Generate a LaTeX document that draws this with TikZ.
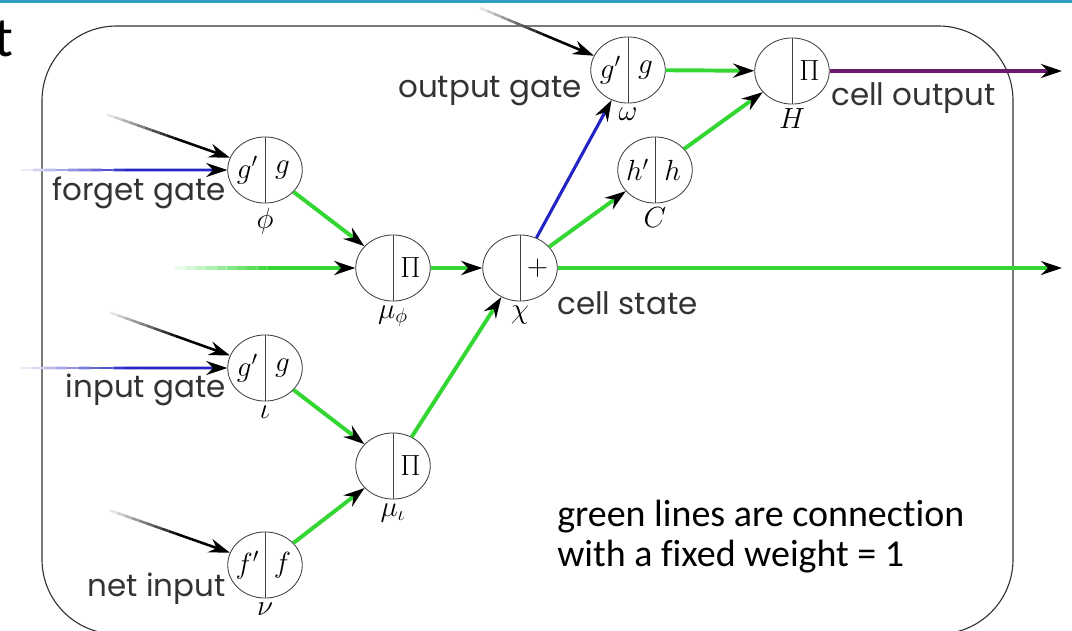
\documentclass[tikz,border=0pt]{standalone}
\usepackage{fontspec}
\newfontfamily\gatefont{Poppins}
\newfontfamily\notefont{Carlito}[Ligatures=NoCommon]
\usepackage{tikz}
\usetikzlibrary{shapes.geometric, arrows.meta, calc}
\definecolor{linkgreen}{HTML}{33D633}
\definecolor{gateblue}{HTML}{2424C4}
\definecolor{outpurple}{HTML}{6A1A6E}
\definecolor{barteal}{HTML}{2E9FBF}
\definecolor{labelgray}{HTML}{333333}

\begin{document}
\begin{tikzpicture}[x=0.025cm, y=-0.025cm,
    unit/.style={ellipse, draw=black!75, line width=0.6pt, minimum width=53pt,
        minimum height=47pt, inner sep=0pt},
    symb/.style={font=\huge, inner sep=0pt},
    gatetext/.style={font=\gatefont\fontsize{22}{24}\selectfont, text=labelgray, inner sep=0pt},
    arrowtip/.style={-{Stealth[length=15pt, width=10pt, inset=5pt, black]}},
    link/.style={arrowtip, linkgreen, line width=2.8pt}]
    \useasboundingbox (0,0) rectangle (1072,631);

    % Frame
    \fill[barteal] (0,0) rectangle (1072,2.5);
    \draw[black!80, line width=0.8pt, rounded corners=53pt] (42,26) rectangle (1013,634);
    \node[font=\notefont\fontsize{40}{40}\selectfont, anchor=base east, inner sep=0pt] (cut) at (14,56) {t};

    % Units
    \foreach \n/\px/\py/\l/\r/\s in {phi/265/170/g'/g/\phi, muphi/393/268//\Pi/\mu_\phi,
        iota/265/368/g'/g/\iota, muiota/393/466//\Pi/\mu_\iota, nu/265/565/f'/f/\nu,
        chi/520/268//+/\chi, omega/628/70/g'/g/\omega, cc/655/170/h'/h/C, hh/792/71//\Pi/H} {
        \node[unit] (\n) at (\px,\py) {};
        \draw[black!75, line width=0.6pt] (\n.north) -- (\n.south);
        \node[symb, xshift=-12.5pt] at (\n.center) {$\l$};
        \node[symb, xshift=12.5pt] at (\n.center) {$\r$};
        \node[symb, below=3pt] (\n-s) at (\n.south) {$\s$};
    }

    % Inputs from outside
    \coordinate (phiB) at (100,112);
    \coordinate (phiU) at (10,170);
    \coordinate (muphiG) at (165,268);
    \coordinate (iotaB) at (103,310);
    \coordinate (iotaU) at (10,368);
    \coordinate (nuB) at (103,508);
    \coordinate (omegaB) at (473,5);
    \foreach \a/\b/\c/\w in {phiB/phi/black/1.8pt, phiU/phi/gateblue/2pt,
        muphiG/muphi/linkgreen/2.8pt, iotaB/iota/black/1.8pt, iotaU/iota/gateblue/2pt,
        nuB/nu/black/1.8pt, omegaB/omega/black/1.8pt} {
        \coordinate (\a-m) at ($(\a)!0.45!(\b)$);
        \foreach \k in {0,...,9}
            \draw[\c!\k0!white, line width=\w] ($(\a)!\k/10!(\a-m)$) -- ($(\a)!\k/10+0.1!(\a-m)$);
        \draw[arrowtip, \c, line width=\w] (\a-m) -- (\b);
    }

    % Inner connections
    \draw[link] (phi) -- (muphi);
    \draw[link] (iota) -- (muiota);
    \draw[link] (nu) -- (muiota);
    \draw[link] (muphi) -- (chi);
    \draw[link] (muiota) -- (chi);
    \draw[arrowtip, gateblue, line width=2.2pt] (chi) -- (omega);
    \draw[link] (chi) -- (cc);
    \draw[link] (omega) -- (hh);
    \draw[link] (cc) -- (hh);

    % Outputs
    \coordinate (stateout) at (1062,268);
    \coordinate (cellout) at (1062,71);
    \draw[link] (chi) -- (stateout);
    \draw[arrowtip, outpurple, line width=2.8pt] (hh) -- (cellout);

    % Labels
    \node[gatetext, anchor=east] (forget) at (226,193) {forget gate};
    \node[gatetext, anchor=east] (input) at (226,390) {input gate};
    \node[gatetext, anchor=east] (net) at (226,589) {net input};
    \node[gatetext, anchor=east] (outgate) at (582,91) {output gate};
    \node[gatetext, anchor=west] (state) at (557,303) {cell state};
    \node[gatetext, anchor=west] (output) at (831,98) {cell output};
    \node[font=\notefont\fontsize{27}{28.5}\selectfont, anchor=north west, align=left,
        inner sep=0pt] (note) at (557,500) {green lines are connection\\with a fixed weight = 1};
\end{tikzpicture}
\end{document}
